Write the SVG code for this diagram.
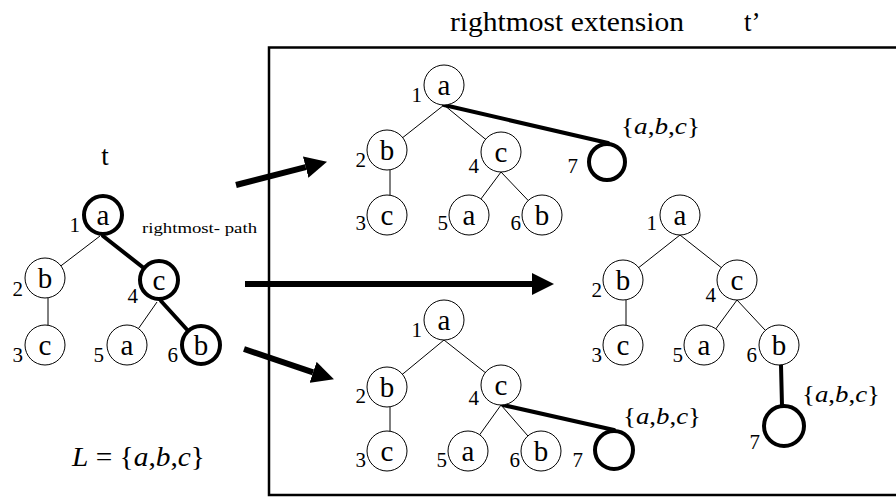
<svg xmlns="http://www.w3.org/2000/svg" width="896" height="497" viewBox="0 0 896 497">
<defs>
<style>
text, tspan{font-family:"Liberation Serif", "Times New Roman", serif !important;fill:#000}
.lt{font-size:29px;text-anchor:middle}
.num{font-size:21px;text-anchor:end}
.n{fill:#fff;stroke:#000;stroke-width:1}
.nb{fill:#fff;stroke:#000;stroke-width:4}
.e{stroke:#000;stroke-width:1;fill:none}
.eb{stroke:#000;stroke-width:4;fill:none;stroke-linecap:round}
.arr{stroke:#000;stroke-width:6;fill:none}
.set{font-size:23px}
.i{font-style:italic}
</style>
<marker id="ah" viewBox="0 0 22 22" refX="0" refY="11" markerWidth="22" markerHeight="22" orient="auto" markerUnits="userSpaceOnUse">
<path d="M0,0 L22,11 L0,22 z" fill="#000"/>
</marker>
</defs>
<rect width="896" height="497" fill="#fff"/>

<!-- titles -->
<text x="450" y="31" font-size="27" font-family="Liberation Serif" textLength="234" lengthAdjust="spacingAndGlyphs">rightmost extension</text>
<text x="744" y="31" font-size="27" font-family="Liberation Serif">t’</text>
<text x="105" y="165" font-size="27" font-family="Liberation Serif" text-anchor="middle">t</text>
<text x="142" y="233" font-size="15" font-family="Liberation Serif" textLength="115" lengthAdjust="spacingAndGlyphs">rightmost- path</text>
<text x="72" y="466" font-size="28" font-family="Liberation Serif" textLength="133" lengthAdjust="spacingAndGlyphs"><tspan class="i">L</tspan> = {<tspan class="i">a</tspan>,<tspan class="i">b</tspan>,<tspan class="i">c</tspan>}</text>

<!-- frame -->
<rect id="frame" x="269" y="47.5" width="640" height="447.5" fill="none" stroke="#000" stroke-width="2.5"/>

<!-- connectors -->
<g id="connectors">
<line class="arr" x1="236" y1="185" x2="305.7" y2="167.2" marker-end="url(#ah)"/>
<line class="arr" x1="245" y1="284" x2="532" y2="284" marker-end="url(#ah)"/>
<line class="arr" x1="244" y1="349" x2="313.1" y2="372.3" marker-end="url(#ah)"/>

<!-- tree t -->
<line class="e" x1="100" y1="236" x2="45" y2="278"/>
<line class="eb" x1="103" y1="236" x2="159" y2="280"/>
<line class="e" x1="48" y1="298" x2="48" y2="345"/>
<line class="e" x1="157" y1="302" x2="127" y2="345"/>
<line class="eb" x1="161" y1="301" x2="201" y2="345"/>

<!-- top extension -->
<line class="e" x1="444" y1="105" x2="387" y2="150"/>
<line class="e" x1="444" y1="105" x2="501" y2="152"/>
<line class="eb" x1="444" y1="105" x2="608" y2="143"/>
<line class="e" x1="390" y1="170" x2="390" y2="215"/>
<line class="e" x1="501" y1="172" x2="469" y2="215"/>
<line class="e" x1="501" y1="172" x2="542" y2="215"/>

<!-- right extension -->
<line class="e" x1="680" y1="235" x2="623" y2="280"/>
<line class="e" x1="680" y1="235" x2="737" y2="280"/>
<line class="e" x1="626" y1="300" x2="626" y2="345"/>
<line class="e" x1="737" y1="300" x2="704" y2="345"/>
<line class="e" x1="737" y1="300" x2="779" y2="345"/>
<line class="eb" x1="781" y1="365" x2="782" y2="406"/>

<!-- bottom extension -->
<line class="e" x1="444" y1="340" x2="387" y2="387"/>
<line class="e" x1="444" y1="340" x2="501" y2="385"/>
<line class="e" x1="390" y1="407" x2="390" y2="451"/>
<line class="e" x1="501" y1="405" x2="468" y2="451"/>
<line class="e" x1="501" y1="405" x2="541" y2="451"/>
<line class="eb" x1="503" y1="405" x2="614" y2="430"/>
</g>

<!-- tree t nodes -->
<g id="t-1"><circle class="nb" cx="103" cy="215" r="19"/><text class="lt" x="103" y="225">a</text><text class="num" x="80" y="232">1</text></g>
<g id="t-2"><circle class="n" cx="45" cy="278" r="20"/><text class="lt" x="45" y="288">b</text><text class="num" x="23" y="296">2</text></g>
<g id="t-4"><circle class="nb" cx="159" cy="280" r="19"/><text class="lt" x="159" y="290">c</text><text class="num" x="138" y="303">4</text></g>
<g id="t-3"><circle class="n" cx="45" cy="345" r="20"/><text class="lt" x="45" y="355">c</text><text class="num" x="23" y="362">3</text></g>
<g id="t-5"><circle class="n" cx="127" cy="345" r="20"/><text class="lt" x="127" y="355">a</text><text class="num" x="104" y="362">5</text></g>
<g id="t-6"><circle class="nb" cx="201" cy="345" r="19"/><text class="lt" x="201" y="355">b</text><text class="num" x="178" y="362">6</text></g>

<!-- top extension nodes -->
<g id="e1-1"><circle class="n" cx="444" cy="85" r="20"/><text class="lt" x="444" y="95">a</text><text class="num" x="422" y="102">1</text></g>
<g id="e1-2"><circle class="n" cx="387" cy="150" r="20"/><text class="lt" x="387" y="160">b</text><text class="num" x="366" y="167">2</text></g>
<g id="e1-4"><circle class="n" cx="501" cy="152" r="20"/><text class="lt" x="501" y="162">c</text><text class="num" x="479" y="173">4</text></g>
<g id="e1-7"><circle class="nb" cx="607" cy="162" r="18"/><text class="num" x="578" y="173">7</text><text class="set" x="621" y="134" textLength="79" lengthAdjust="spacingAndGlyphs">{<tspan class="i">a</tspan>,<tspan class="i">b</tspan>,<tspan class="i">c</tspan>}</text></g>
<g id="e1-3"><circle class="n" cx="387" cy="215" r="20"/><text class="lt" x="387" y="225">c</text><text class="num" x="366" y="230">3</text></g>
<g id="e1-5"><circle class="n" cx="469" cy="215" r="20"/><text class="lt" x="469" y="225">a</text><text class="num" x="448" y="230">5</text></g>
<g id="e1-6"><circle class="n" cx="542" cy="215" r="20"/><text class="lt" x="542" y="225">b</text><text class="num" x="521" y="230">6</text></g>

<!-- right extension nodes -->
<g id="e2-1"><circle class="n" cx="680" cy="215" r="20"/><text class="lt" x="680" y="225">a</text><text class="num" x="657" y="230">1</text></g>
<g id="e2-2"><circle class="n" cx="623" cy="280" r="20"/><text class="lt" x="623" y="290">b</text><text class="num" x="602" y="297">2</text></g>
<g id="e2-4"><circle class="n" cx="737" cy="280" r="20"/><text class="lt" x="737" y="290">c</text><text class="num" x="716" y="302">4</text></g>
<g id="e2-3"><circle class="n" cx="623" cy="345" r="20"/><text class="lt" x="623" y="355">c</text><text class="num" x="602" y="362">3</text></g>
<g id="e2-5"><circle class="n" cx="704" cy="345" r="20"/><text class="lt" x="704" y="355">a</text><text class="num" x="683" y="362">5</text></g>
<g id="e2-6"><circle class="n" cx="779" cy="345" r="20"/><text class="lt" x="779" y="355">b</text><text class="num" x="757" y="362">6</text></g>
<g id="e2-7"><circle class="nb" cx="784" cy="426" r="20"/><text class="num" x="760" y="449">7</text><text class="set" x="802" y="402" textLength="78" lengthAdjust="spacingAndGlyphs">{<tspan class="i">a</tspan>,<tspan class="i">b</tspan>,<tspan class="i">c</tspan>}</text></g>

<!-- bottom extension nodes -->
<g id="e3-1"><circle class="n" cx="444" cy="320" r="20"/><text class="lt" x="444" y="330">a</text><text class="num" x="422" y="337">1</text></g>
<g id="e3-2"><circle class="n" cx="387" cy="387" r="20"/><text class="lt" x="387" y="397">b</text><text class="num" x="366" y="403">2</text></g>
<g id="e3-4"><circle class="n" cx="501" cy="385" r="20"/><text class="lt" x="501" y="395">c</text><text class="num" x="479" y="405">4</text></g>
<g id="e3-3"><circle class="n" cx="387" cy="451" r="20"/><text class="lt" x="387" y="461">c</text><text class="num" x="366" y="467">3</text></g>
<g id="e3-5"><circle class="n" cx="468" cy="451" r="20"/><text class="lt" x="468" y="461">a</text><text class="num" x="447" y="467">5</text></g>
<g id="e3-6"><circle class="n" cx="541" cy="451" r="20"/><text class="lt" x="541" y="461">b</text><text class="num" x="520" y="467">6</text></g>
<g id="e3-7"><circle class="nb" cx="614" cy="450" r="19"/><text class="num" x="583" y="467">7</text><text class="set" x="623" y="424" textLength="78" lengthAdjust="spacingAndGlyphs">{<tspan class="i">a</tspan>,<tspan class="i">b</tspan>,<tspan class="i">c</tspan>}</text></g>
</svg>
